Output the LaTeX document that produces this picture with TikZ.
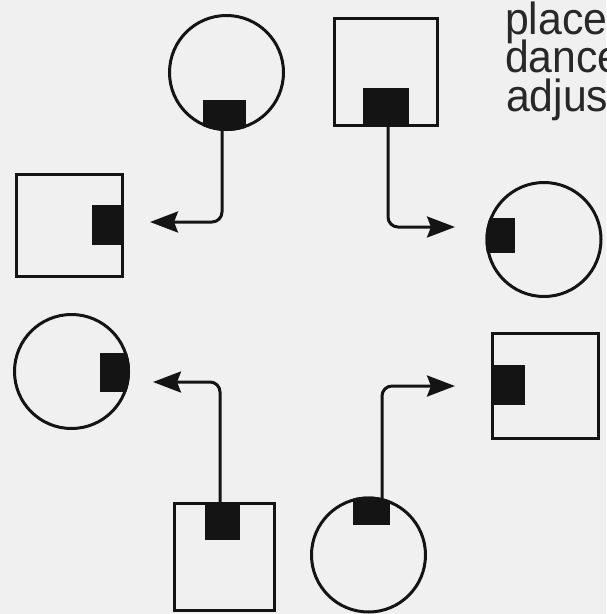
\documentclass[tikz,border=0pt]{standalone}
\usepackage{fontspec}
\setmainfont{Liberation Sans}
\usetikzlibrary{arrows.meta}
\definecolor{bg}{RGB}{240,240,240}
\definecolor{ink}{RGB}{20,20,20}
\definecolor{txt}{RGB}{40,40,40}
\begin{document}
\begin{tikzpicture}[x=1pt,y=-1pt,
  roundshape/.style={circle,draw=ink,line width=3pt,inner sep=0pt,minimum size=114pt},
  boxshape/.style={rectangle,draw=ink,line width=3pt,inner sep=0pt},
  marker/.style={rectangle,fill=ink,draw=none,inner sep=0pt},
  conn/.style={draw=ink,line width=3pt,rounded corners=10pt,-{Stealth[length=28pt,width=21pt,inset=4pt]}},
  word/.style={anchor=base west,text=txt,inner sep=0pt,xscale=0.95,text height=32pt,text depth=5pt,font=\fontsize{45}{45}\selectfont}]
\fill[bg] (0,0) rectangle (606,614);
\useasboundingbox (0,0) rectangle (606,614);

% shapes
\node[roundshape] (c1) at (226.5,72.5) {};
\node[roundshape] (c2) at (544,239.5) {};
\node[roundshape] (c3) at (71.5,371.5) {};
\node[roundshape] (c4) at (368.5,555) {};
\node[boxshape,minimum width=103pt,minimum height=107pt] (s1) at (386,72) {};
\node[boxshape,minimum width=106pt,minimum height=102pt] (s2) at (69.5,225.5) {};
\node[boxshape,minimum width=106pt,minimum height=105pt] (s3) at (545.5,386) {};
\node[boxshape,minimum width=100pt,minimum height=107pt] (s4) at (224.5,557) {};

% markers in circles (clipped to circle)
\begin{scope}
\clip (c1.center) circle (58.5pt);
\node[marker,minimum width=43pt,minimum height=40pt] (m1) at (224.5,120) {};
\end{scope}
\begin{scope}
\clip (c2.center) circle (58.5pt);
\node[marker,minimum width=45pt,minimum height=35pt] (m4) at (492.5,235.5) {};
\end{scope}
\begin{scope}
\clip (c3.center) circle (58.5pt);
\node[marker,minimum width=40pt,minimum height=39pt] (m5) at (120,372.5) {};
\end{scope}
\begin{scope}
\clip (c4.center) circle (58.5pt);
\node[marker,minimum width=37pt,minimum height=40pt] (m8) at (371.5,505) {};
\end{scope}

% markers in squares
\node[marker,minimum width=46pt,minimum height=39pt] (m2) at (386,107.5) {};
\node[marker,minimum width=32pt,minimum height=40pt] (m3) at (108,225) {};
\node[marker,minimum width=34pt,minimum height=40pt] (m6) at (508,385) {};
\node[marker,minimum width=35pt,minimum height=38pt] (m7) at (222.5,521) {};

% arrow tips
\coordinate (t1) at (150,222);
\coordinate (t2) at (455,227);
\coordinate (t3) at (153,382);
\coordinate (t4) at (455,386);

% connectors
\draw[conn] ([xshift=-2.5pt]m1.center) |- (t1);
\draw[conn] ([xshift=2pt]m2.center) |- (t2);
\draw[conn] ([xshift=-2.5pt]m7.center) |- (t3);
\draw[conn] ([xshift=10.5pt]m8.center) |- (t4);

% text
\node[word] (w1) at (505,34) {place};
\node[word] (w2) at (505,72) {dance};
\node[word] (w3) at (506,111) {adjus};
\end{tikzpicture}
\end{document}
